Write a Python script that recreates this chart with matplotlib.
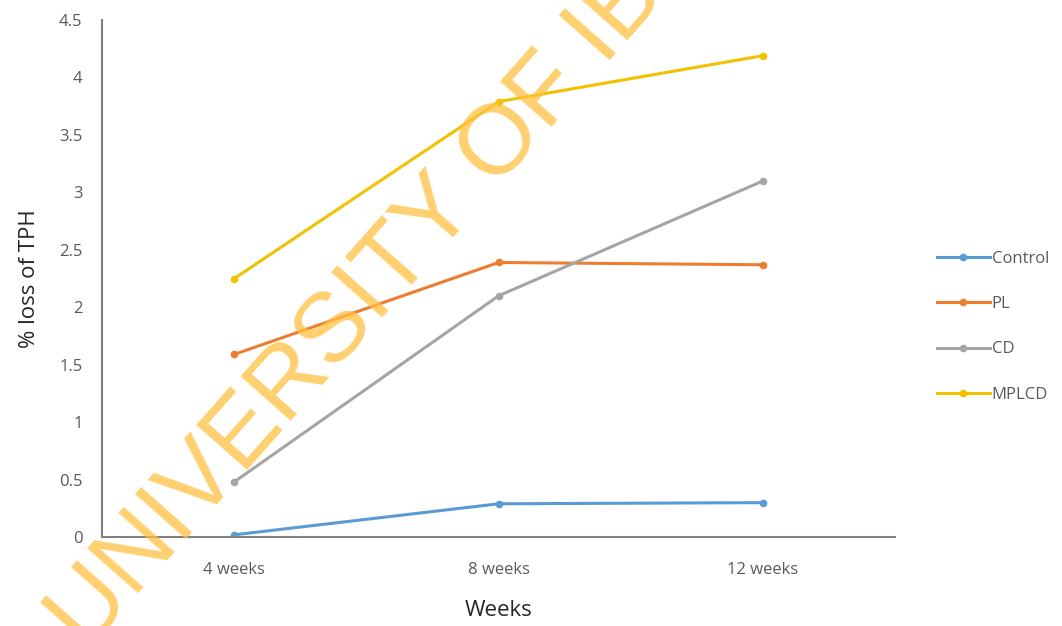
import matplotlib.pyplot as plt

weeks = ['4 weeks', '8 weeks', '12 weeks']
control = [0.02, 0.29, 0.30]
pl = [1.59, 2.39, 2.37]
cd = [0.48, 2.10, 3.10]
mplcd = [2.25, 3.79, 4.19]

series = [('Control', control, '#5B9BD5'),
          ('PL', pl, '#ED7D31'),
          ('CD', cd, '#A5A5A5'),
          ('MPLCD', mplcd, '#F2C200')]

plt.rcParams['font.family'] = ['Open Sans', 'DejaVu Sans']

fig = plt.figure(figsize=(10.62, 6.26), dpi=100)
ax = fig.add_axes([0.096, 0.142, 0.747, 0.826])

x = range(len(weeks))
for name, vals, col in series:
    ax.plot(x, vals, color=col, lw=2.2, marker='o', ms=4.5, label=name)

ax.set_xlim(-0.5, 2.5)
ax.set_ylim(0, 4.5)
ax.set_yticks([0, 0.5, 1, 1.5, 2, 2.5, 3, 3.5, 4, 4.5])
ax.set_yticklabels(['0', '0.5', '1', '1.5', '2', '2.5', '3', '3.5', '4', '4.5'])
ax.set_xticks(list(x))
ax.set_xticklabels(weeks)
ax.tick_params(length=0, colors='#595959', labelsize=12)
ax.xaxis.set_tick_params(pad=18)
ax.yaxis.set_tick_params(pad=14)

for s in ['top', 'right']:
    ax.spines[s].set_visible(False)
for s in ['left', 'bottom']:
    ax.spines[s].set_color('#808080')
    ax.spines[s].set_linewidth(1.5)

ax.set_xlabel('Weeks', fontsize=16, color='#262626', labelpad=16)
ax.set_ylabel('% loss of TPH', fontsize=16, color='#262626', labelpad=14)

fig.legend(loc='center left', bbox_to_anchor=(0.868, 0.478), frameon=False,
           fontsize=12, labelcolor='#595959', handlelength=3.2,
           handletextpad=0.1, labelspacing=1.75)

# watermark
fig.text(0.095, -0.064, 'UNIVERSITY OF IBADAN', fontsize=71, color='#FFC040',
         alpha=0.75, rotation=48.5, ha='left', va='bottom',
         family=['Liberation Sans'], rotation_mode='anchor')

fig.savefig('out.png', dpi=100)
